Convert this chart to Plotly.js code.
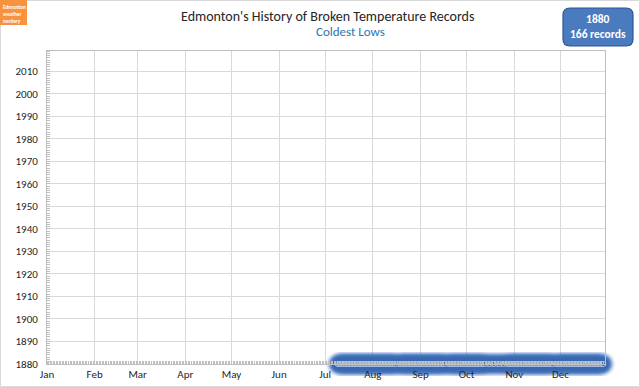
<!DOCTYPE html>
<html>
<head>
<meta charset="utf-8">
<script src="https://cdn.plot.ly/plotly-3.0.1.min.js"></script>
<style>html,body{margin:0;padding:0;background:#fff;}#chart{width:640px;height:387px;}</style>
</head>
<body>
<div id="chart"></div>
<script>
// ---- data ----
const recordYear = 1880;
const recordCount = 166;
// day-of-year of each record set in 1880
const recordDays = [
190,191,192,193,194,195,196,197,198,199,200,201,202,203,204,205,206,207,208,209,
210,211,212,213,214,215,216,217,218,219,220,221,222,223,224,225,226,227,228,
230,231,232,233,234,235,236,237,238,239,240,241,242,243,244,245,246,247,248,249,
250,251,252,253,254,255,256,257,258,259,260,
262,263,264,265,266,267,268,269,270,271,272,273,274,275,276,277,278,279,280,281,
282,283,284,285,286,
288,289,291,292,294,295,297,298,
300,301,302,303,304,305,306,307,308,309,310,311,312,313,314,315,316,317,318,319,
320,321,322,323,324,325,326,327,328,329,330,
332,333,334,335,336,337,338,339,340,341,342,343,344,345,346,347,348,349,350,351,
352,353,354,355,356,357,358,359,360,361,362,363
];
const recordYears = recordDays.map(() => recordYear);
const monthTickDays = [1,32,60,91,121,152,182,213,244,274,305,335];
const monthLabels = ['Jan','Feb','Mar','Apr','May','Jun','Jul','Aug','Sep','Oct','Nov','Dec'];
const yearTicks = [1880,1890,1900,1910,1920,1930,1940,1950,1960,1970,1980,1990,2000,2010];
const titleText = "Edmonton's History of Broken Temperature Records";
const subtitleText = "Coldest Lows";

// ---- layout helpers ----
const W = 640, H = 387;
const M = {l: 47, r: 35, t: 51, b: 23};
const PW = W - M.l - M.r, PH = H - M.t - M.b;
const px2x = px => (px - M.l) / PW;
const py2y = py => (H - M.b - py) / PH;

const font = 'Carlito, Lato, "Open Sans", sans-serif';
const glowColor = '#4472c4';

const traces = [
  {x: recordDays, y: recordYears, type: 'scatter', mode: 'markers', cliponaxis: false, hoverinfo: 'skip',
   marker: {size: 24, color: glowColor, opacity: 0.1, line: {width: 0}}},
  {x: recordDays, y: recordYears, type: 'scatter', mode: 'markers', cliponaxis: false, hoverinfo: 'skip',
   marker: {size: 20, color: glowColor, opacity: 0.2, line: {width: 0}}},
  {x: recordDays, y: recordYears, type: 'scatter', mode: 'markers', cliponaxis: false, hoverinfo: 'skip',
   marker: {size: 16, color: '#3d6cb3', opacity: 0.45, line: {width: 0}}},
  {x: recordDays, y: recordYears, type: 'scatter', mode: 'markers', cliponaxis: false, hoverinfo: 'skip',
   marker: {size: 11, color: '#3a68b0', opacity: 0.85, line: {width: 0}}},
  {x: recordDays, y: recordYears, type: 'scatter', mode: 'markers', cliponaxis: false,
   marker: {size: 5, color: '#3c6cb4', line: {width: 0.8, color: 'rgba(215,228,245,0.8)'}}}
];

const layout = {
  width: W, height: H,
  margin: M,
  paper_bgcolor: '#fff', plot_bgcolor: '#fff',
  showlegend: false,
  font: {family: font, size: 11, color: '#404040'},
  xaxis: {
    range: [1, 364], tickvals: monthTickDays, ticktext: monthLabels,
    showgrid: true, gridcolor: '#d9d9d9', gridwidth: 1,
    showline: true, linecolor: '#bfbfbf', linewidth: 1, mirror: true,
    ticks: '', zeroline: false, tickfont: {size: 11, color: '#262626'},
    minor: {dtick: 1, tick0: 1, ticks: 'inside', ticklen: 3, tickcolor: '#bfbfbf', tickwidth: 1, showgrid: false},
    fixedrange: true
  },
  yaxis: {
    range: [1880, 2019], tickvals: yearTicks,
    showgrid: true, gridcolor: '#d9d9d9', gridwidth: 1,
    showline: true, linecolor: '#bfbfbf', linewidth: 1, mirror: true,
    ticks: '', zeroline: false, tickfont: {size: 11, color: '#262626'},
    minor: {dtick: 1, tick0: 1880, ticks: 'inside', ticklen: 3, tickcolor: '#bfbfbf', tickwidth: 1, showgrid: false},
    ticklabelstandoff: 6, fixedrange: true
  },
  shapes: [
    {type: 'rect', xref: 'paper', yref: 'paper', x0: px2x(0.5), x1: px2x(W - 0.5), y0: py2y(H - 0.5), y1: py2y(0.5),
     line: {color: '#d9d9d9', width: 1}, fillcolor: 'rgba(0,0,0,0)', layer: 'below'},
    {type: 'rect', xref: 'paper', yref: 'paper', x0: px2x(0), x1: px2x(27), y0: py2y(25), y1: py2y(0),
     line: {width: 0}, fillcolor: '#f7923f'},
    {type: 'path', xref: 'paper', yref: 'paper', xsizemode: 'pixel', ysizemode: 'pixel',
     xanchor: px2x(598), yanchor: py2y(27),
     path: 'M -28,19 L 28,19 Q 35,19 35,12 L 35,-12 Q 35,-19 28,-19 L -28,-19 Q -35,-19 -35,-12 L -35,12 Q -35,19 -28,19 Z',
     fillcolor: '#4a7bbf', line: {color: '#2f5597', width: 1.2}}
  ],
  annotations: [
    {xref: 'paper', yref: 'paper', x: px2x(327), y: py2y(16), text: titleText, showarrow: false,
     xanchor: 'center', yanchor: 'middle', font: {family: font, size: 14, color: '#262626'}},
    {xref: 'paper', yref: 'paper', x: px2x(350), y: py2y(31), text: subtitleText, showarrow: false,
     xanchor: 'center', yanchor: 'middle', font: {family: font, size: 13, color: '#2e75b6'}},
    {xref: 'paper', yref: 'paper', x: px2x(598), y: py2y(27), text: '<b>' + recordYear + '<br>' + recordCount + ' records</b>',
     showarrow: false, xanchor: 'center', yanchor: 'middle', font: {family: font, size: 11.5, color: '#ffffff'}},
    {xref: 'paper', yref: 'paper', x: px2x(1.5), y: py2y(2.5), text: '<b>Edmonton<br>weather<br>nerdery</b>',
     showarrow: false, xanchor: 'left', yanchor: 'top', align: 'left', borderpad: 0,
     font: {family: font, size: 5.3, color: '#ffffff'}}
  ]
};

Plotly.newPlot('chart', traces, layout, {displayModeBar: false, staticPlot: true});
</script>
</body>
</html>
